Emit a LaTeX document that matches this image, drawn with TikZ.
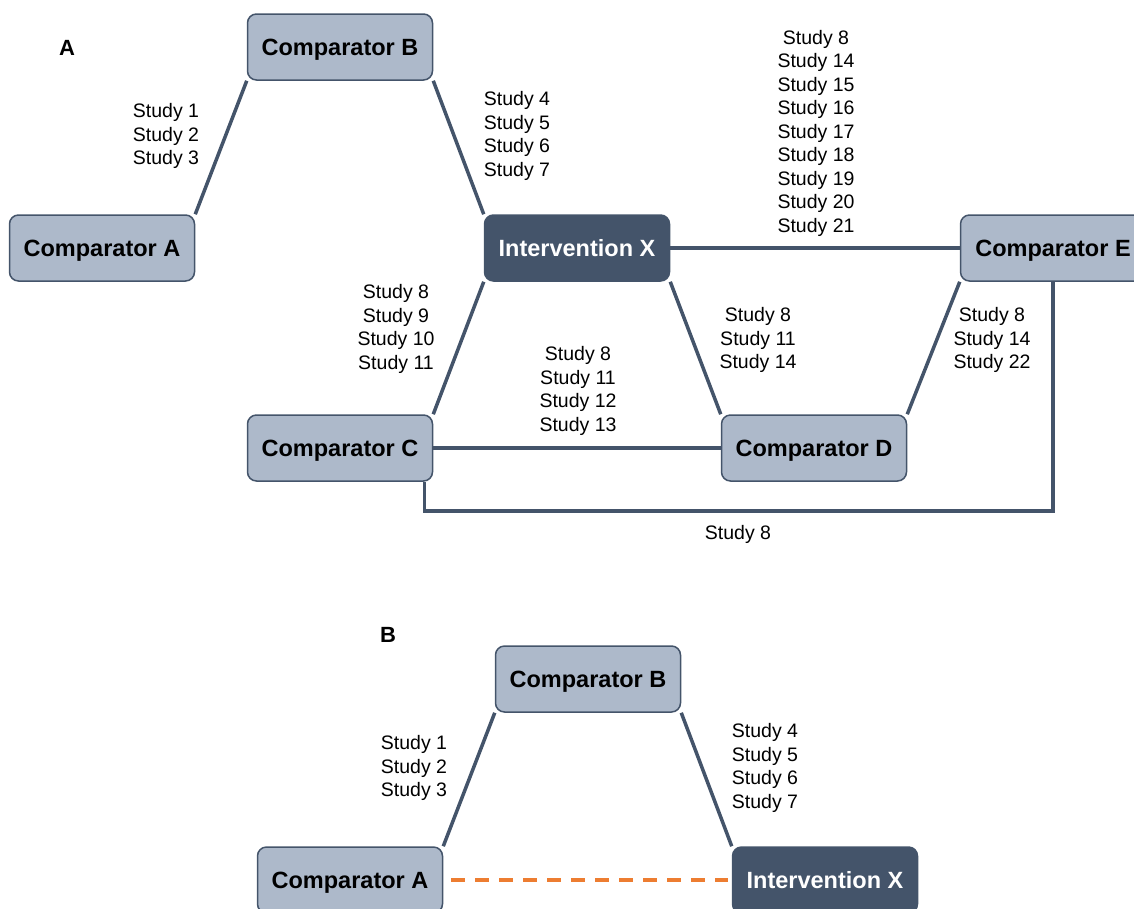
\documentclass[tikz,border=0pt]{standalone}
\usepackage{fontspec}
\setmainfont{Liberation Sans}
\usepackage{tikz}
\usetikzlibrary{backgrounds}
\definecolor{boxfill}{HTML}{ADB9CA}
\definecolor{slate}{HTML}{44546A}
\definecolor{dashorange}{HTML}{ED7D31}

\begin{document}
\begin{tikzpicture}[x=1pt,y=1pt]
    \tikzstyle{edge}=[draw,line width=3.5pt,-,slate]
    \tikzstyle{comp}=[draw=slate,line width=1.5pt,fill=boxfill,rounded corners=9pt,minimum width=185pt,minimum height=66pt,text depth=0pt,font=\fontsize{23.5}{27}\selectfont\bfseries]
    \tikzstyle{interv}=[comp,fill=slate,text=white]
    \tikzstyle{studies}=[align=center,inner sep=0pt,yshift=-2pt,font=\fontsize{19.5}{23.5}\selectfont]
    \tikzstyle{panel}=[inner sep=0pt,font=\fontsize{22}{26}\selectfont\bfseries]
    \clip (0,0) rectangle (1134,-908);
    % panel A
    \node[panel] (pa) at (67,-48) {A};
    \node[comp] (ca) at (102,-248) {Comparator A};
    \node[comp] (cb) at (340,-47) {Comparator B};
    \node[interv] (ix) at (577,-248) {Intervention X};
    \node[comp] (ce) at (1053,-248) {Comparator E};
    \node[comp] (cc) at (340,-448) {Comparator C};
    \node[comp] (cd) at (814,-448) {Comparator D};
    \begin{scope}[on background layer]
    \draw[edge] (ca.north east) -- (cb.south west);
    \draw[edge] (cb.south east) -- (ix.north west);
    \draw[edge] (ix.east) -- (ce.west);
    \draw[edge] (ix.south west) -- (cc.north east);
    \draw[edge] (ix.south east) -- (cd.north west);
    \draw[edge] (cc.east) -- (cd.west);
    \draw[edge] (cd.north east) -- (ce.south west);
    \draw[edge] ([xshift=-9pt]cc.south east) -- ++(0,-29) -| (ce.south);
    \end{scope}
    \node[studies] (sab) at (166,-134) {Study 1\\Study 2\\Study 3};
    \node[studies] (sbx) at (517,-134) {Study 4\\Study 5\\Study 6\\Study 7};
    \node[studies] (sxe) at (816,-131) {Study 8\\Study 14\\Study 15\\Study 16\\Study 17\\Study 18\\Study 19\\Study 20\\Study 21};
    \node[studies] (sxc) at (396,-327) {Study 8\\Study 9\\Study 10\\Study 11};
    \node[studies] (scd) at (578,-389) {Study 8\\Study 11\\Study 12\\Study 13};
    \node[studies] (sxd) at (758,-338) {Study 8\\Study 11\\Study 14};
    \node[studies] (sde) at (992,-338) {Study 8\\Study 14\\Study 22};
    \node[studies] (sce) at (738,-532) {Study 8};
    % panel B
    \node[panel] (pb) at (388,-635) {B};
    \node[comp] (bb) at (588,-679) {Comparator B};
    \node[comp] (ba) at (350,-880) {Comparator A};
    \node[interv] (bx) at (825,-880) {Intervention X};
    \begin{scope}[on background layer]
    \draw[edge] (ba.north east) -- (bb.south west);
    \draw[edge] (bb.south east) -- (bx.north west);
    \end{scope}
    \draw[line width=4pt,dashorange,dash pattern=on 14pt off 10pt] ([xshift=8pt]ba.east) -- ([xshift=-4pt]bx.west);
    \node[studies] (bsab) at (414,-766) {Study 1\\Study 2\\Study 3};
    \node[studies] (bsbx) at (765,-766) {Study 4\\Study 5\\Study 6\\Study 7};
\end{tikzpicture}
\end{document}
